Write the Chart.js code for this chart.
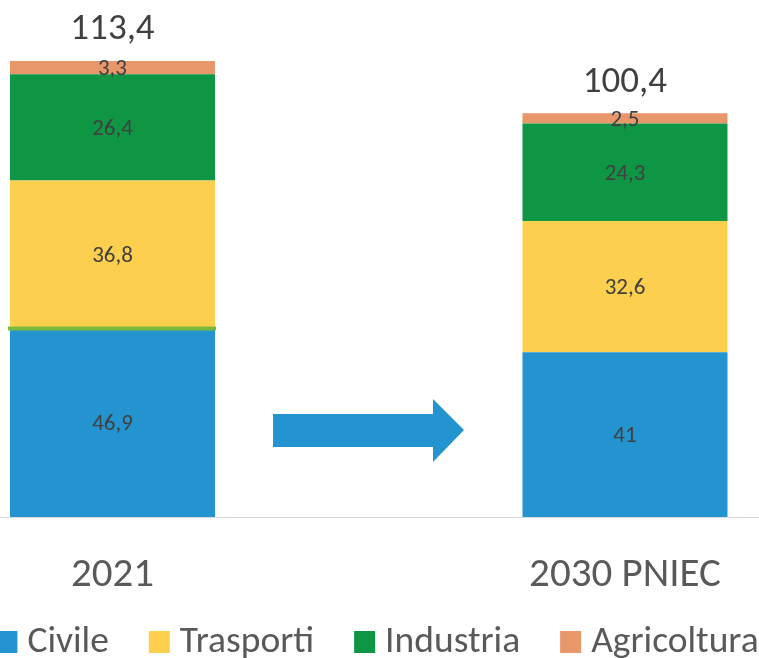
<!DOCTYPE html>
<html>
<head>
<meta charset="utf-8">
<script src="https://cdn.jsdelivr.net/npm/chart.js@4/dist/chart.umd.min.js"></script>
<style>
  html, body { margin: 0; padding: 0; background: #fff; overflow: hidden; }
  #c { display: block; }
</style>
</head>
<body>
<canvas id="c" width="759" height="658"></canvas>
<script>
// Consumi finali di energia per settore (Mtep): 2021 e obiettivo PNIEC 2030
const categories = ['2021', '2030 PNIEC'];
const positions = [0, 1];
const civile = [46.9, 41];
const trasporti = [36.8, 32.6];
const industria = [26.4, 24.3];
const agricoltura = [3.3, 2.5];
const seriesNames = ['Civile', 'Trasporti', 'Industria', 'Agricoltura'];
const seriesColors = ['#2394CF', '#FDCF4F', '#0E9644', '#E8976A'];

const FONT = "Carlito, Calibri, 'Liberation Sans', sans-serif";
const TEXT_DARK = '#404040';
const TEXT_GREY = '#595959';

const fmt = v => v.toLocaleString('it-IT', { maximumFractionDigits: 1 });

const seriesValues = [civile, trasporti, industria, agricoltura];
const datasets = seriesNames.map((name, i) => ({
  label: name,
  data: positions.map((p, j) => ({ x: p, y: seriesValues[i][j] })),
  backgroundColor: seriesColors[i],
  borderWidth: 0,
  barPercentage: 1,
  categoryPercentage: 0.4
}));

// Etichette dei valori, totali, freccia, linea di separazione e legenda
const decorations = {
  id: 'decorations',
  afterDatasetsDraw(chart) {
    const ctx = chart.ctx;
    const area = chart.chartArea;

    // linea verde sul bordo superiore del settore Civile 2021
    const civMeta = chart.getDatasetMeta(0);
    const b0 = civMeta.data[0];
    ctx.save();
    ctx.strokeStyle = '#7CB93B';
    ctx.lineWidth = 4;
    ctx.beginPath();
    ctx.moveTo(b0.x - b0.width / 2 - 2, b0.y);
    ctx.lineTo(b0.x + b0.width / 2 + 1, b0.y);
    ctx.stroke();
    ctx.restore();

    // valori dentro le barre
    ctx.save();
    ctx.font = '23px ' + FONT;
    ctx.fillStyle = TEXT_DARK;
    ctx.textAlign = 'center';
    ctx.textBaseline = 'middle';
    chart.data.datasets.forEach((ds, i) => {
      const meta = chart.getDatasetMeta(i);
      meta.data.forEach((el, j) => {
        const v = ds.data[j].y;
        ctx.fillText(fmt(v), el.x, (el.y + el.base) / 2 + 2);
      });
    });
    ctx.restore();

    // totali sopra le barre
    const topMeta = chart.getDatasetMeta(chart.data.datasets.length - 1);
    ctx.save();
    ctx.font = '37px ' + FONT;
    ctx.fillStyle = TEXT_DARK;
    ctx.textAlign = 'center';
    ctx.textBaseline = 'middle';
    positions.forEach((p, j) => {
      const total = seriesValues.reduce((s, arr) => s + arr[j], 0);
      const el = topMeta.data[j];
      ctx.fillText(fmt(total), el.x, el.y - 31);
    });
    ctx.restore();

    // freccia tra le due barre
    const ax = area.left + 273, bx = area.left + 433, tx = area.left + 464;
    const cy = 430;
    ctx.save();
    ctx.fillStyle = '#2394CF';
    ctx.beginPath();
    ctx.moveTo(ax, cy - 16);
    ctx.lineTo(bx, cy - 16);
    ctx.lineTo(bx, cy - 31);
    ctx.lineTo(tx, cy);
    ctx.lineTo(bx, cy + 32);
    ctx.lineTo(bx, cy + 17);
    ctx.lineTo(ax, cy + 17);
    ctx.closePath();
    ctx.fill();
    ctx.restore();

    // legenda
    ctx.save();
    ctx.font = '37.5px ' + FONT;
    ctx.textBaseline = 'middle';
    ctx.textAlign = 'left';
    const boxW = 21, boxH = 22, boxGap = 10, itemGap = 40;
    const widths = seriesNames.map(n => boxW + boxGap + ctx.measureText(n).width);
    const total = widths.reduce((a, b) => a + b, 0) + itemGap * (seriesNames.length - 1);
    let x = chart.width / 2 - total / 2 - 2;
    const ly = 642;
    seriesNames.forEach((n, i) => {
      ctx.fillStyle = seriesColors[i];
      ctx.fillRect(x, ly - boxH / 2, boxW, boxH);
      ctx.fillStyle = TEXT_GREY;
      ctx.fillText(n, x + boxW + boxGap, ly + 1);
      x += widths[i] + itemGap;
    });
    ctx.restore();
  }
};

new Chart(document.getElementById('c'), {
  type: 'bar',
  data: { datasets },
  options: {
    responsive: false,
    animation: false,
    layout: { padding: 0 },
    plugins: {
      legend: { display: false },
      tooltip: { enabled: false }
    },
    scales: {
      x: {
        type: 'linear',
        stacked: true,
        offset: false,
        min: -0.2195,
        max: 1.2615,
        grid: { display: false, drawTicks: false, offset: false },
        border: { display: true, color: '#D9D9D9', width: 1 },
        afterBuildTicks: s => { s.ticks = positions.map(v => ({ value: v })); },
        afterFit: s => { s.height = 141; },
        ticks: {
          autoSkip: false,
          maxRotation: 0,
          padding: 34,
          color: TEXT_GREY,
          font: { family: FONT, size: 41 },
          callback: v => { const k = positions.indexOf(v); return k >= 0 ? categories[k] : ''; }
        }
      },
      y: {
        stacked: true,
        display: false,
        min: 0,
        max: 128.6
      }
    }
  },
  plugins: [decorations]
});
</script>
</body>
</html>
